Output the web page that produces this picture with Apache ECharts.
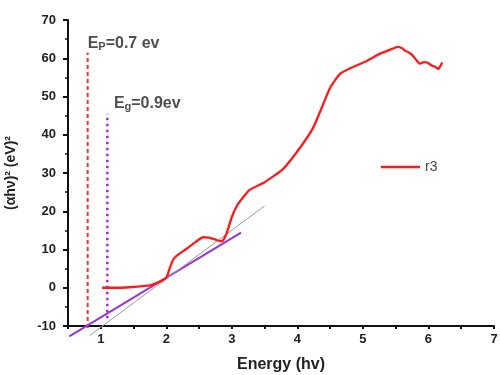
<!DOCTYPE html>
<html><head><meta charset="utf-8">
<script src="https://cdn.jsdelivr.net/npm/echarts@6/dist/echarts.min.js"></script>
<style>html,body{margin:0;padding:0;background:#fff}#c{width:500px;height:375px}</style>
</head><body><div id="c"></div>
<script>
// Data
const r3 = [[1.02,0],[1.3,0],[1.5,0.2],[1.75,0.6],[1.9,1.6],[2.0,2.6],[2.05,5],[2.1,7.2],[2.16,8.4],[2.31,10.2],[2.45,12],[2.56,13.2],[2.65,13.1],[2.75,12.6],[2.85,12.1],[2.92,14.2],[3.0,18.5],[3.08,21.5],[3.17,23.6],[3.27,25.6],[3.5,27.6],[3.78,31],[4.04,36.6],[4.24,41.8],[4.37,47],[4.5,52.3],[4.65,55.9],[4.8,57.3],[5.06,59.3],[5.26,61.2],[5.41,62.2],[5.53,63],[5.6,62.6],[5.64,62],[5.7,61.5],[5.76,60.7],[5.82,59.4],[5.87,58.6],[5.93,59],[5.98,58.9],[6.05,58.1],[6.1,57.8],[6.15,57.2],[6.19,58.2],[6.21,58.9]];
const epLine = [[0.8,-10.5],[0.8,61.5]];
const egLine = [[1.1,-8],[1.1,45.5]];
const tangentPurple = [[0.52,-12.7],[3.14,14.4]];
const tangentGrey = [[0.83,-12.5],[3.5,21.4]];
const epLabelPos = [[0.8,63.8]];
const egLabelPos = [[1.2,48.1]];
const xTicks = {min:0.5, max:7, step:0.5};
const yTicks = {min:-10, max:70, step:10};

const chart = echarts.init(document.getElementById('c'));
const txt = {fontFamily:'Liberation Sans, Arial', fontWeight:'bold', color:'#222'};
chart.setOption({
  animation:false,
  grid:{left:68,right:6,top:20,bottom:49,outerBoundsMode:'none',containLabel:false},
  legend:{data:['r3'],left:376,top:155,icon:'rect',itemWidth:39,itemHeight:2.5,itemGap:5,
    textStyle:{fontFamily:'Liberation Sans, Arial',fontSize:14,color:'#444'}},
  xAxis:{type:'value',min:xTicks.min,max:xTicks.max,interval:xTicks.step,
    name:'Energy (hv)',nameLocation:'middle',nameGap:31,
    nameTextStyle:Object.assign({fontSize:16},txt),
    axisLine:{onZero:false,lineStyle:{color:'#111',width:2}},
    axisTick:{length:3,lineStyle:{color:'#111',width:2}},
    axisLabel:Object.assign({fontSize:13,margin:7,formatter:v=>Number.isInteger(v)?String(v):''},txt),
    splitLine:{show:false}},
  yAxis:{type:'value',min:yTicks.min,max:yTicks.max,interval:yTicks.step,
    name:'(αhν)² (eV)²',nameLocation:'middle',nameGap:50,
    nameTextStyle:Object.assign({fontSize:14},txt),
    axisLine:{show:true,lineStyle:{color:'#111',width:2}},
    axisTick:{length:5,lineStyle:{color:'#111',width:2}},
    minorTick:{show:true,splitNumber:2,length:3,lineStyle:{color:'#111',width:1.5}},
    axisLabel:Object.assign({fontSize:13,margin:12},txt),
    splitLine:{show:false}},
  series:[
    {name:'r3',type:'line',data:r3,symbol:'none',smooth:0.15,lineStyle:{color:'#ff1a1a',width:2.3},itemStyle:{color:'#ff1a1a'},z:5},
    {name:'ep',type:'line',data:epLine,symbol:'none',clip:false,lineStyle:{color:'#ff2a2a',width:2,type:[4,3]}},
    {name:'eg',type:'line',data:egLine,symbol:'none',clip:false,lineStyle:{color:'#9a2ee0',width:2.5,type:[2.5,3.5]}},
    {name:'tp',type:'line',data:tangentPurple,symbol:'none',clip:false,lineStyle:{color:'#9a33d6',width:2}},
    {name:'tg',type:'line',data:tangentGrey,symbol:'none',clip:false,lineStyle:{color:'#9a9a9a',width:1}},
    {name:'lab1',type:'scatter',data:epLabelPos,symbolSize:0,
      label:{show:true,position:'right',distance:0,formatter:'{a|E}{s|P}{a|=0.7 ev}',
        rich:{a:Object.assign({fontSize:16},txt),s:Object.assign({fontSize:11,padding:[7,0,0,0]},txt)}}},
    {name:'lab2',type:'scatter',data:egLabelPos,symbolSize:0,
      label:{show:true,position:'right',distance:0,formatter:'{a|E}{s|g}{a|=0.9ev}',
        rich:{a:Object.assign({fontSize:16},txt),s:Object.assign({fontSize:11,padding:[7,0,0,0]},txt)}}}
  ]
});
</script></body></html>
